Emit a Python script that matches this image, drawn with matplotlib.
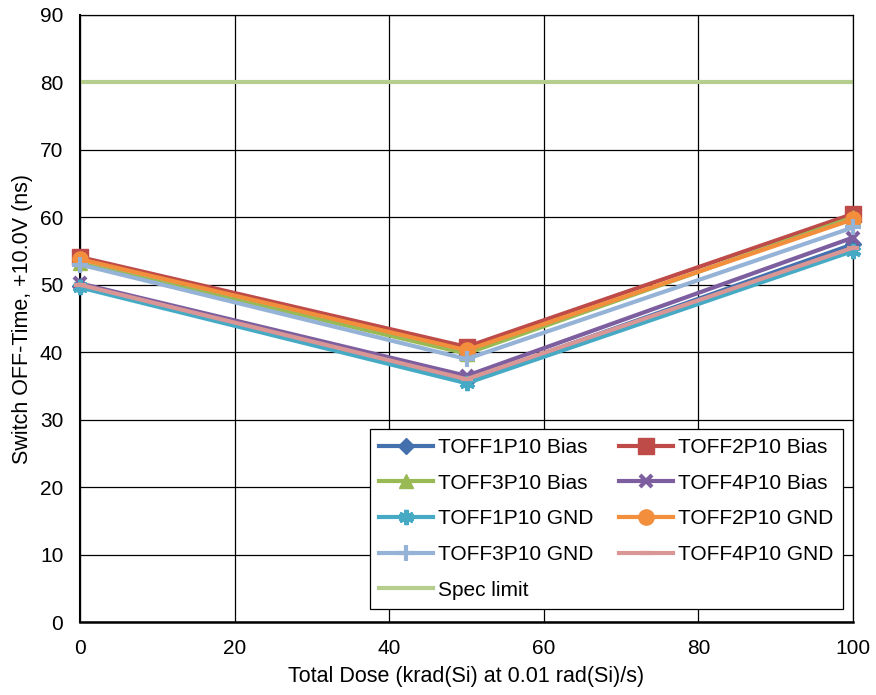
import matplotlib
matplotlib.use("Agg")
import matplotlib.pyplot as plt

plt.rcParams["font.family"] = ["Liberation Sans", "DejaVu Sans"]

dose = [0, 50, 100]
series_names = ["TOFF1P10 Bias", "TOFF2P10 Bias", "TOFF3P10 Bias", "TOFF4P10 Bias",
                "TOFF1P10 GND", "TOFF2P10 GND", "TOFF3P10 GND", "TOFF4P10 GND"]
toff1_bias = [49.8, 35.8, 56.0]
toff2_bias = [54.1, 40.8, 60.5]
toff3_bias = [53.2, 39.8, 60.0]
toff4_bias = [50.2, 36.5, 57.0]
toff1_gnd = [49.6, 35.4, 55.0]
toff2_gnd = [53.8, 40.3, 59.7]
toff3_gnd = [53.0, 39.0, 58.5]
toff4_gnd = [50.0, 36.0, 55.5]
spec_limit = 80
xticks = [0, 20, 40, 60, 80, 100]
yticks = [0, 10, 20, 30, 40, 50, 60, 70, 80, 90]

values = [toff1_bias, toff2_bias, toff3_bias, toff4_bias,
          toff1_gnd, toff2_gnd, toff3_gnd, toff4_gnd]
colors = ["#4470AE", "#BE4B48", "#98B954", "#7D5FA0",
          "#46AAC5", "#F28E3C", "#95B3D7", "#D99694"]
markers = ["D", "s", "^", "x", (6, 2, 0), "o", "+", "_"]
msizes = [8, 11, 10, 9, 11, 11, 11, 9]

fig = plt.figure(figsize=(8.76, 6.95), dpi=100)
ax = fig.add_axes([80/876, 1-622/695, (853-80)/876, (622-15)/695])

ax.plot([0, 100], [spec_limit, spec_limit], color="#B5CE8E", lw=3, label="Spec limit", zorder=2)
for name, v, c, m, ms in zip(series_names, values, colors, markers, msizes):
    ax.plot(dose, v, color=c, lw=3, marker=m, ms=ms, mew=3 if m in ("x", "+", "_", (6, 2, 0)) else 1,
            mec=c, mfc=c, label=name, zorder=3, clip_on=False)

ax.set_xlim(0, 100)
ax.set_ylim(0, 90)
ax.set_xticks(xticks)
ax.set_yticks(yticks)
ax.grid(True, color="black", lw=0.9)
ax.set_axisbelow(True)
for s in ax.spines.values():
    s.set_color("black")
    s.set_linewidth(0.9)
ax.spines["bottom"].set_linewidth(1.8)
ax.spines["left"].set_linewidth(1.5)
ax.tick_params(axis="x", labelsize=15, length=0, pad=12)
ax.tick_params(axis="y", labelsize=15, length=0, pad=12)
ax.set_xlabel("Total Dose (krad(Si) at 0.01 rad(Si)/s)", fontsize=15.5, labelpad=6)
ax.set_ylabel("Switch OFF-Time, +10.0V (ns)", fontsize=15.5, labelpad=5)

handles, labels = ax.get_legend_handles_labels()
order = list(range(1, 9)) + [0]
h = [handles[i] for i in order]
l = [labels[i] for i in order]
left = h[0::2]; right = h[1::2]
ll = l[0::2]; rl = l[1::2]
blank = plt.Line2D([], [], color="none")
h2 = left + right + [blank]
l2 = ll + rl + [""]
leg = ax.legend(h2, l2, ncol=2, loc="lower right", bbox_to_anchor=(1.0 - 10/773, 13/607),
                fontsize=15, frameon=True, fancybox=False, edgecolor="black",
                handlelength=2.6, columnspacing=1.2, labelspacing=0.8,
                borderpad=0.45, handletextpad=0.25, framealpha=1, borderaxespad=0)
leg.get_frame().set_linewidth(0.9)

fig.savefig("out.png", dpi=100)
